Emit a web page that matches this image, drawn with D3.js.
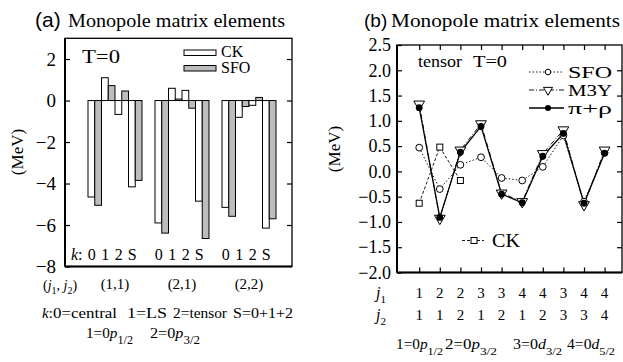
<!DOCTYPE html>
<html><head><meta charset="utf-8">
<script src="https://cdn.jsdelivr.net/npm/d3@7"></script>
<style>body{margin:0;background:#fff}svg{display:block}</style>
</head><body>
<script>
// ---------- data ----------
const groupsA = ["(1,1)", "(2,1)", "(2,2)"];
const kLabels = ["0", "1", "2", "S"];
const seriesA = ["CK", "SFO"];
const ckA  = [[-4.65, 1.10, -0.67, -4.16], [-5.90, 0.59, 0.49, -4.85], [-5.15, -0.81, -0.23, -6.15]];
const sfoA = [[-5.05, 0.72, 0.46, -3.85], [-6.39, 0.07, -0.37, -6.65], [-5.58, -0.29, 0.15, -5.70]];
const yTicksA = [-8, -6, -4, -2, 0, 2];

const j1 = [1, 2, 2, 3, 3, 4, 4, 3, 4, 4];
const j2 = [1, 1, 2, 1, 2, 1, 2, 3, 3, 4];
const sfoB   = [0.47, -0.35, 0.13, 0.28, -0.13, -0.18, 0.09, 0.71, -0.60, 0.37];
const m3yB   = [1.33, -0.93, 0.42, 0.94, -0.43, -0.60, 0.35, 0.82, -0.66, 0.42];
const pirhoB = [1.26, -0.91, 0.38, 0.89, -0.45, -0.62, 0.30, 0.75, -0.63, 0.36];
const ckB    = [-0.63, 0.48, -0.18];
const yTicksB = [-2.0, -1.5, -1.0, -0.5, 0.0, 0.5, 1.0, 1.5, 2.0, 2.5];

const SERIF = "'Liberation Serif', 'Times New Roman', Times, serif";
const SANS = "'Liberation Sans', Arial, sans-serif";
const GRAY = "#bdbdbd";

const svg = d3.select("body").append("svg").attr("width", 623).attr("height", 362)
  .style("font-family", SERIF);

function txt(x, y, s, o = {}) {
  const t = svg.append("text").attr("x", x).attr("y", y)
    .style("font-family", o.family || SERIF).attr("font-size", o.size || 16)
    .attr("text-anchor", o.anchor || "start").attr("fill", "#000").text(s);
  if (o.italic) t.attr("font-style", "italic");
  if (o.len) t.attr("textLength", o.len).attr("lengthAdjust", "spacingAndGlyphs");
  return t;
}
function subTxt(x, y, pre, it, sub, size, subSize, width) {
  const g = svg.append("text").attr("x", x).attr("y", y).style("font-family", SERIF).attr("font-size", size);
  g.append("tspan").text(pre);
  g.append("tspan").attr("font-style", "italic").text(it);
  g.append("tspan").attr("font-size", subSize).attr("dy", size * 0.42).text(sub);
  if (width) g.attr("textLength", width).attr("lengthAdjust", "spacingAndGlyphs");
  return g;
}

// ================= Panel (a) =================
const A = {l: 65, r: 292, t: 38.3, b: 266.5};
const yA = d3.scaleLinear().domain([-8, 3]).range([A.b, A.t]);
const xG = d3.scaleBand().domain(groupsA).range([81.5, 282.5]).paddingInner(0.194).paddingOuter(0.097);
const xK = d3.scaleBand().domain(kLabels).range([0, xG.bandwidth()]);
const xS = d3.scaleBand().domain(seriesA).range([0, xK.bandwidth()]);

txt(35, 27, "(a)", {family: SANS, size: 21});
txt(68, 27, "Monopole matrix elements", {size: 19, len: 217});

const barData = [];
groupsA.forEach((g, gi) => kLabels.forEach((k, ki) => {
  barData.push({g, k, s: "CK", v: ckA[gi][ki]});
  barData.push({g, k, s: "SFO", v: sfoA[gi][ki]});
}));
svg.append("g").selectAll("rect").data(barData).join("rect")
  .attr("x", d => xG(d.g) + xK(d.k) + xS(d.s))
  .attr("width", xS.bandwidth())
  .attr("y", d => yA(Math.max(0, d.v)))
  .attr("height", d => Math.abs(yA(d.v) - yA(0)))
  .attr("fill", d => d.s === "CK" ? "#fff" : GRAY)
  .attr("stroke", "#000").attr("stroke-width", 1);

const axL = svg.append("g").attr("transform", `translate(${A.l},0)`)
  .call(d3.axisLeft(yA).tickValues(yTicksA).tickSize(-5).tickPadding(9).tickFormat(d3.format("d")));
axL.select(".domain").remove();
axL.selectAll("text").style("font-family", SERIF).attr("font-size", 19).attr("fill", "#000");
axL.selectAll("line").attr("stroke-width", 1.2);
const axR = svg.append("g").attr("transform", `translate(${A.r},0)`)
  .call(d3.axisRight(yA).tickValues(yTicksA.slice(1)).tickSize(-5).tickFormat(""));
axR.select(".domain").remove();
axR.selectAll("line").attr("stroke-width", 1.2);
svg.append("rect").attr("x", A.l).attr("y", A.t).attr("width", A.r - A.l).attr("height", A.b - A.t)
  .attr("fill", "none").attr("stroke", "#000").attr("stroke-width", 1.3);
svg.append("line").attr("x1", A.l).attr("x2", A.r).attr("y1", A.b).attr("y2", A.b).attr("stroke", "#000").attr("stroke-width", 2.2);
svg.append("line").attr("x1", A.l).attr("x2", A.l).attr("y1", A.t).attr("y2", A.b).attr("stroke", "#000").attr("stroke-width", 2);

[["CK", "#fff", 50], ["SFO", GRAY, 65.5]].forEach(([n, f, y]) => {
  svg.append("rect").attr("x", 184).attr("y", y).attr("width", 32).attr("height", 5.5)
    .attr("fill", f).attr("stroke", "#000").attr("stroke-width", 1);
  txt(221, y + 7, n, {size: 16});
});
txt(82, 63, "T=0", {size: 18, len: 38});

txt(71, 260, "k", {size: 16, italic: true});
txt(78, 260, ":", {size: 16});
groupsA.forEach(g => kLabels.forEach(k => {
  txt(xG(g) + xK(k) + xK.bandwidth() / 2 - 3, 260, k, {size: 16, anchor: "middle"});
}));
groupsA.forEach(g => txt(xG(g) + xG.bandwidth() / 2, 289, g, {size: 15, anchor: "middle"}));
{
  const t = txt(43, 289.5, "(", {size: 14});
  t.append("tspan").attr("font-style", "italic").text("j");
  t.append("tspan").attr("font-size", 10).attr("dy", 4).text("1");
  t.append("tspan").attr("dy", -4).text(", ");
  t.append("tspan").attr("font-style", "italic").text("j");
  t.append("tspan").attr("font-size", 10).attr("dy", 4).text("2");
  t.append("tspan").attr("dy", -4).text(")");
}
{
  const t = txt(42, 318, "k", {size: 15, italic: true});
  t.append("tspan").attr("font-style", "normal").text(":");
  txt(53, 318, "0=central", {size: 15, len: 64});
  txt(127, 318, "1=LS", {size: 15, len: 40});
  txt(173, 318, "2=tensor", {size: 15, len: 54});
  txt(233, 318, "S=0+1+2", {size: 15, len: 60});
}
subTxt(86, 338, "1=0", "p", "1/2", 15, 12, 47);
subTxt(150, 338, "2=0", "p", "3/2", 15, 12, 50);
svg.append("text").attr("transform", "translate(23,152) rotate(-90)").attr("text-anchor", "middle")
  .style("font-family", SERIF).attr("font-size", 17).text("(MeV)");

// ================= Panel (b) =================
const B = {l: 397, r: 622, t: 45, b: 272.5};
const xB = d3.scaleLinear().domain([1, 10]).range([419.2, 604.6]);
const yB = d3.scaleLinear().domain([-2, 2.5]).range([B.b, B.t]);
const idx = d3.range(1, 11);

txt(364, 27, "(b)", {family: SANS, size: 19});
txt(391, 27, "Monopole matrix elements", {size: 19, len: 229});

const bL = svg.append("g").attr("transform", `translate(${B.l},0)`)
  .call(d3.axisLeft(yB).tickValues(yTicksB).tickSize(-5).tickPadding(6).tickFormat(d3.format(".1f")));
bL.select(".domain").remove();
bL.selectAll("text").style("font-family", SERIF).attr("font-size", 18).attr("fill", "#000");
bL.selectAll("line").attr("stroke-width", 1.2);
const bR = svg.append("g").attr("transform", `translate(${B.r},0)`)
  .call(d3.axisRight(yB).tickValues(yTicksB.slice(1, -1)).tickSize(-5).tickFormat(""));
bR.select(".domain").remove();
bR.selectAll("line").attr("stroke-width", 1.2);
const bB = svg.append("g").attr("transform", `translate(0,${B.b})`)
  .call(d3.axisBottom(xB).tickValues(idx).tickSize(-5).tickFormat(""));
bB.select(".domain").remove();
bB.selectAll("line").attr("stroke-width", 1.2);
const bT = svg.append("g").attr("transform", `translate(0,${B.t})`)
  .call(d3.axisTop(xB).tickValues(idx).tickSize(-5).tickFormat(""));
bT.select(".domain").remove();
bT.selectAll("line").attr("stroke-width", 1.2);
svg.append("rect").attr("x", B.l).attr("y", B.t).attr("width", B.r - B.l).attr("height", B.b - B.t)
  .attr("fill", "none").attr("stroke", "#000").attr("stroke-width", 1.3);
svg.append("line").attr("x1", B.l).attr("x2", B.r).attr("y1", B.b).attr("y2", B.b).attr("stroke", "#000").attr("stroke-width", 2.2);
svg.append("line").attr("x1", B.l).attr("x2", B.l).attr("y1", B.t).attr("y2", B.b).attr("stroke", "#000").attr("stroke-width", 2);

const line = d3.line().x(d => xB(d[0])).y(d => yB(d[1]));
const zip = arr => arr.map((v, i) => [i + 1, v]);
const gB = svg.append("g");
gB.append("path").attr("d", line(zip(ckB))).attr("fill", "none").attr("stroke", "#000").attr("stroke-width", 0.9).attr("stroke-dasharray", "3,2");
gB.append("path").attr("d", line(zip(sfoB))).attr("fill", "none").attr("stroke", "#000").attr("stroke-width", 0.9).attr("stroke-dasharray", "1.5,2");
gB.append("path").attr("d", line(zip(m3yB))).attr("fill", "none").attr("stroke", "#000").attr("stroke-width", 0.9).attr("stroke-dasharray", "5,2,1,2");
gB.append("path").attr("d", line(zip(pirhoB))).attr("fill", "none").attr("stroke", "#000").attr("stroke-width", 1.3);

const tri = d3.symbol().type(d3.symbolTriangle).size(50);
gB.selectAll(null).data(zip(ckB)).join("rect")
  .attr("x", d => xB(d[0]) - 3).attr("y", d => yB(d[1]) - 3).attr("width", 6).attr("height", 6)
  .attr("fill", "#fff").attr("stroke", "#000").attr("stroke-width", 1);
gB.selectAll(null).data(zip(sfoB)).join("circle").attr("cx", d => xB(d[0])).attr("cy", d => yB(d[1])).attr("r", 3.4)
  .attr("fill", "#fff").attr("stroke", "#000").attr("stroke-width", 1);
gB.selectAll(null).data(zip(m3yB)).join("path").attr("d", tri)
  .attr("transform", d => `translate(${xB(d[0])},${yB(d[1])}) rotate(180)`)
  .attr("fill", "#fff").attr("stroke", "#000").attr("stroke-width", 1);
gB.selectAll(null).data(zip(pirhoB)).join("circle").attr("cx", d => xB(d[0])).attr("cy", d => yB(d[1])).attr("r", 3.4)
  .attr("fill", "#000");

txt(418, 67, "tensor", {size: 17, len: 44});
txt(473, 67, "T=0", {size: 17, len: 34});
const lg = [
  {n: "SFO", y: 72, dash: "1.5,2", m: "oc"},
  {n: "M3Y", y: 90, dash: "5,2,1,2", m: "tri"},
  {n: "π+ρ", y: 108, dash: null, m: "fc"}
];
lg.forEach(d => {
  const l = svg.append("line").attr("x1", 529).attr("x2", 564).attr("y1", d.y).attr("y2", d.y)
    .attr("stroke", "#000").attr("stroke-width", d.dash ? 0.9 : 1.3);
  if (d.dash) l.attr("stroke-dasharray", d.dash);
  if (d.m === "oc") svg.append("circle").attr("cx", 548).attr("cy", d.y).attr("r", 2.8).attr("fill", "#fff").attr("stroke", "#000");
  if (d.m === "tri") svg.append("path").attr("d", d3.symbol().type(d3.symbolTriangle).size(36)).attr("transform", `translate(548,${d.y}) rotate(180)`).attr("fill", "#fff").attr("stroke", "#000");
  if (d.m === "fc") svg.append("circle").attr("cx", 548).attr("cy", d.y).attr("r", 3).attr("fill", "#000");
  txt(568, d.y + 6, d.n, {size: 17, len: 44});
});
svg.append("line").attr("x1", 462).attr("x2", 484).attr("y1", 240.5).attr("y2", 240.5).attr("stroke", "#000").attr("stroke-width", 0.9).attr("stroke-dasharray", "3,2");
svg.append("rect").attr("x", 471).attr("y", 237.5).attr("width", 6).attr("height", 6).attr("fill", "#fff").attr("stroke", "#000");
txt(492, 247, "CK", {size: 18, len: 28});

idx.forEach((i, k) => {
  txt(xB(i), 298, String(j1[k]), {size: 15, anchor: "middle"});
  txt(xB(i), 320, String(j2[k]), {size: 15, anchor: "middle"});
});
[["1", 298], ["2", 320]].forEach(([s, y]) => {
  const t = txt(376, y, "j", {size: 16, italic: true});
  t.append("tspan").attr("font-style", "normal").attr("font-size", 11).attr("dy", 5).text(s);
});
subTxt(396, 349, "1=0", "p", "1/2", 14, 11, 47);
subTxt(445, 349, "2=0", "p", "3/2", 14, 11, 52);
subTxt(513, 349, "3=0", "d", "3/2", 14, 11, 49);
subTxt(567, 349, "4=0", "d", "5/2", 14, 11, 48);
svg.append("text").attr("transform", "translate(340,149) rotate(-90)").attr("text-anchor", "middle")
  .style("font-family", SERIF).attr("font-size", 17).text("(MeV)");
</script>
</body></html>
